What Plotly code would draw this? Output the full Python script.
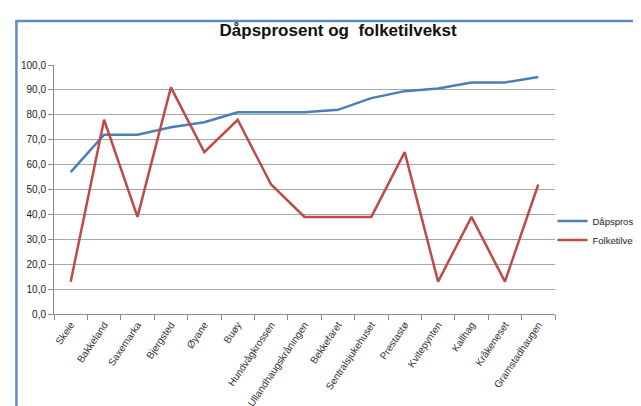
import plotly.graph_objects as go

categories = ["Skeie", "Bakkeland", "Saxemarka", "Bjergsted", "Øyane", "Buøy",
              "Hundvågkrossen", "Ullandhaugskråningen", "Bekkefaret",
              "Sentralsjukehuset", "Prestastø", "Kvitepynten", "Kallhag",
              "Kråkeneset", "Gramstadhaugen"]
dapsprosent = [57, 72, 72, 75, 77, 81, 81, 81, 82, 86.7, 89.5, 90.6, 93, 93, 95.2]
folketilvekst = [13, 78, 39, 91, 65, 78, 52, 39, 39, 39, 65, 13, 39, 13, 52]

FONT = "Liberation Sans, Arial, sans-serif"

fig = go.Figure()
fig.add_trace(go.Scatter(x=categories, y=dapsprosent, mode="lines", name="Dåpsprosent",
                         line=dict(color="#4A7EBB", width=2.5)))
fig.add_trace(go.Scatter(x=categories, y=folketilvekst, mode="lines", name="Folketilvekst",
                         line=dict(color="#BE4B48", width=2.5)))

fig.update_layout(
    width=641, height=406,
    margin=dict(l=46, r=94, t=57, b=100, autoexpand=False),
    paper_bgcolor="white", plot_bgcolor="white",
    separators=", ",
    font=dict(family=FONT, size=10, color="#222222"),
    title=dict(text="<b>Dåpsprosent og  folketilvekst</b>", x=0.515, xanchor="center",
               y=1 - 22 / 406, yanchor="middle",
               font=dict(family=FONT, size=17, color="#111111")),
    showlegend=True,
    legend=dict(x=0.995, xanchor="left", y=0.335, yanchor="middle",
                font=dict(family=FONT, size=9.5, color="#222222"),
                bgcolor="rgba(0,0,0,0)", tracegroupgap=2, itemwidth=30),
    xaxis=dict(type="category", range=[-0.5, len(categories) - 0.5],
               showgrid=False, showline=True, linecolor="#8c8c8c",
               linewidth=1, ticks="outside", tickson="boundaries", ticklen=5,
               tickcolor="#8c8c8c", tickangle=-56,
               tickfont=dict(family=FONT, size=10, color="#333333")),
    yaxis=dict(range=[0, 100], dtick=10, tickformat=".1f", showgrid=True,
               gridcolor="#a6a6a6", gridwidth=1, showline=True, linecolor="#8c8c8c",
               ticks="outside", ticklen=5, tickcolor="#8c8c8c", zeroline=False,
               tickfont=dict(family=FONT, size=10, color="#222222")),
    shapes=[
        dict(type="line", xref="paper", yref="paper", x0=-0.075, x1=-0.075,
             y0=-0.42, y1=1.177, line=dict(color="#5F8CC8", width=2.5)),
        dict(type="line", xref="paper", yref="paper", x0=-0.077, x1=1.2,
             y0=1.177, y1=1.177, line=dict(color="#5F8CC8", width=2.5)),
    ],
)

fig.write_html("out.html")
